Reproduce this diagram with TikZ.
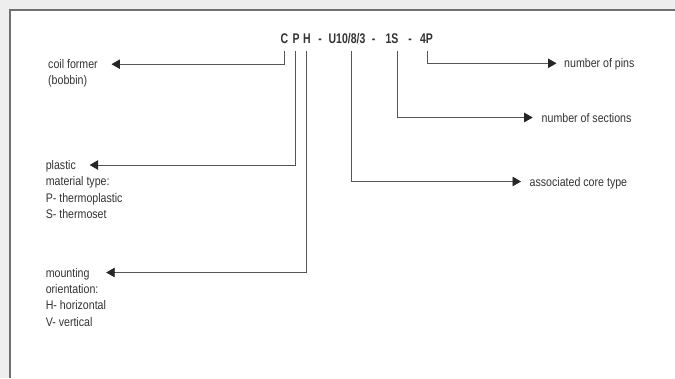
\documentclass[tikz,border=0pt]{standalone}
\usepackage{fontspec}
\setmainfont{Liberation Sans}[FakeStretch=0.85]
\newfontfamily\codefont{Liberation Sans}[FakeStretch=0.75]
\usetikzlibrary{arrows.meta}
\definecolor{frameGray}{HTML}{6F6F6F}
\definecolor{bgGray}{HTML}{EDEEED}
\definecolor{txtGray}{HTML}{333333}
\definecolor{lineGray}{HTML}{555555}

\begin{document}
\begin{tikzpicture}[x=1pt, y=-1pt,
    code/.style={font=\codefont\bfseries\fontsize{14}{16}\selectfont, text=txtGray,
                 inner sep=0pt, anchor=base},
    lbl/.style={font=\fontsize{12.5}{16.4}\selectfont, text=txtGray,
                inner sep=0pt, anchor=base west, align=left},
    head/.style={lbl, anchor=west, text height=9pt, text depth=0pt},
    conn/.style={draw=lineGray, line width=0.9pt,
                 -{Triangle[length=8.5pt, width=9.5pt, color=black!85]}},
  ]
    % page and frame
    \useasboundingbox (0,0) rectangle (675,378);
    \fill[bgGray] (0,0) rectangle (675,378);
    \fill[white] (10,10) rectangle (675,378);
    \draw[frameGray, line width=2pt] (10,378) -- (10,10) -- (675,10);

    % part number
    \node[code] (tC) at (284.5, 43.3) {C};
    \node[code] (tP) at (296.0, 43.3) {P};
    \node[code] (tH) at (307.0, 43.3) {H};
    \node[code] (d1) at (320.0, 43.3) {-};
    \node[code] (tU) at (347.0, 43.3) {U10/8/3};
    \node[code] (d2) at (373.5, 43.3) {-};
    \node[code] (tS) at (392.0, 43.3) {1S};
    \node[code] (d3) at (410.0, 43.3) {-};
    \node[code] (tN) at (426.5, 43.3) {4P};

    % left labels (base of a multi-line node = its last line)
    \node[head] (coil) at (48.0, 64.2) {coil former};
    \node[lbl] (coilx) at (48.0, 84.8) {(bobbin)};
    \node[head] (plastic) at (45.6, 165.0) {plastic};
    \node[lbl] (plasticx) at (45.6, 218.5) {material type:\\P- thermoplastic\\S- thermoset};
    \node[head] (mount) at (45.6, 272.5) {mounting};
    \node[lbl] (mountx) at (45.6, 326.0) {orientation:\\H- horizontal\\V- vertical};

    % right labels
    \node[head] (pins) at (564.0, 63.3) {number of pins};
    \node[head] (sect) at (541.5, 117.5) {number of sections};
    \node[head] (core) at (529.5, 181.5) {associated core type};

    % connectors
    \draw[conn] ([yshift=-7.7pt]tC.base) |- ([xshift=13.5pt]coil.east);
    \draw[conn] ([xshift=-1pt, yshift=-7.7pt]tP.base) |- ([xshift=13.5pt]plastic.east);
    \draw[conn] ([xshift=-1pt, yshift=-7.7pt]tH.base) |- ([xshift=16.5pt]mount.east);
    \draw[conn] ([xshift=4.7pt, yshift=-7.7pt]tU.base) |- ([xshift=-8.5pt]core.west);
    \draw[conn] ([xshift=5.3pt, yshift=-7.7pt]tS.base) |- ([xshift=-8.8pt]sect.west);
    \draw[conn] ([xshift=0.8pt, yshift=-7.7pt]tN.base) |- ([xshift=-7.5pt]pins.west);
  \end{tikzpicture}
\end{document}
